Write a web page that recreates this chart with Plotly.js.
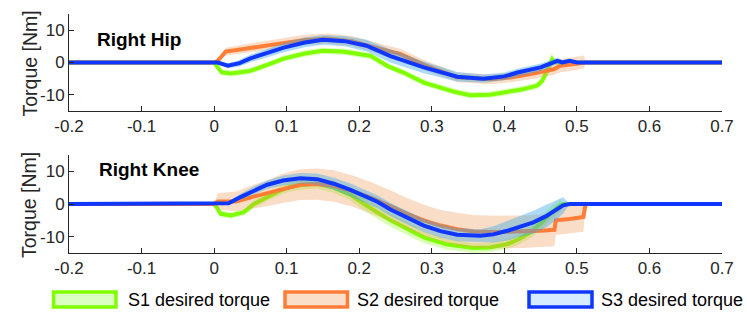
<!DOCTYPE html>
<html>
<head>
<meta charset="utf-8">
<script src="https://cdn.plot.ly/plotly-3.0.1.min.js"></script>
<style>html,body{margin:0;padding:0;background:#fff;}#chart{width:747px;height:316px;}</style>
</head>
<body>
<div id="chart"></div>
<script>
// ---------- data ----------
const seriesNames = ["S1 desired torque", "S2 desired torque", "S3 desired torque"];
const panelTitles = ["Right Hip", "Right Knee"];
const yTitle = "Torque [Nm]";
const xTickVals = [-0.2, -0.1, 0, 0.1, 0.2, 0.3, 0.4, 0.5, 0.6, 0.7];
const xTickText = ["-0.2", "-0.1", "0", "0.1", "0.2", "0.3", "0.4", "0.5", "0.6", "0.7"];
const yTickVals = [-10, 0, 10];
const yTickText = ["-10", "0", "10"];

// Right Hip
const hipT1 = [-0.2,0,0.005,0.01,0.023,0.05,0.075,0.096,0.125,0.15,0.18,0.216,0.24,0.261,0.289,0.308,0.33,0.353,0.38,0.399,0.425,0.445,0.452,0.459,0.466,0.47,0.7];
const hipM1 = [0,0,-1.5,-3.0,-3.4,-2.6,-0.6,1.2,2.8,3.6,3.3,2.0,-1.2,-3.1,-6.2,-7.4,-9.0,-10.1,-10.0,-9.3,-8.3,-7.2,-5.7,-2.6,1.0,0,0];
const hipS1 = [0,0,0.6,1,1,1,1,1,1,1,1,1,1,1,1,1,1,1,1,1,1,1,1.5,2,2,0,0];

const hipT2 = [-0.2,0,0.005,0.016,0.05,0.096,0.125,0.156,0.19,0.216,0.257,0.29,0.335,0.381,0.41,0.436,0.468,0.477,0.5,0.51,0.512,0.7];
const hipM2 = [0,0,0.5,3.4,4.5,6.2,7.0,7.4,6.6,5.0,2.6,-0.8,-4.6,-5.2,-4.6,-3.6,-2.1,-1.0,-0.3,0.2,0,0];
const hipS2 = [0,0,0.5,1.2,1.4,1.5,1.6,1.6,1.6,1.6,1.6,1.5,1.5,1.5,1.5,1.6,1.8,2,2,2,0,0];

const hipT3 = [-0.2,0,0.005,0.019,0.035,0.05,0.075,0.096,0.125,0.15,0.18,0.21,0.243,0.289,0.335,0.371,0.4,0.418,0.45,0.473,0.48,0.49,0.5,0.7];
const hipM3 = [0,0,0,-1.0,-0.2,1.3,3.0,4.6,6.2,7.0,6.6,5.2,2.0,-1.5,-4.4,-5.0,-4.3,-3.1,-1.5,0.5,0,0.5,0,0];
const hipS3 = [0,0,0.3,0.8,1,1.2,1.3,1.4,1.5,1.5,1.6,1.8,2,1.8,1.5,1.3,1.2,1.2,1.2,1,0.8,0.5,0,0];

// Right Knee
const kneeT1 = [-0.2,0,0.005,0.009,0.023,0.041,0.055,0.073,0.09,0.105,0.125,0.142,0.165,0.188,0.21,0.243,0.266,0.289,0.32,0.357,0.38,0.404,0.42,0.436,0.45,0.463,0.477,0.482,0.7];
const kneeM1 = [0,0,-1.5,-3.0,-3.5,-2.5,0,2.2,4.0,5.3,6.0,6.2,5.0,2.8,-0.5,-5.0,-7.5,-10.2,-12.3,-13.5,-13.3,-12.3,-10.8,-8.7,-6.0,-3.0,-0.4,0,0];
const kneeS1 = [0,0,0.6,1,1,1,1.2,1.3,1.4,1.5,1.5,1.5,1.6,1.8,2,2,2,1.8,1.6,1.5,1.5,1.5,1.6,1.8,2,2,2,0,0];

const kneeT2 = [-0.2,0,0.005,0.03,0.05,0.073,0.095,0.119,0.142,0.165,0.19,0.215,0.243,0.266,0.289,0.312,0.335,0.357,0.39,0.426,0.45,0.469,0.471,0.49,0.509,0.512,0.7];
const kneeM2 = [0,0,0.8,0.8,2.0,3.3,4.8,5.9,6.1,5.5,4.0,2.0,-0.6,-3.0,-5.0,-6.6,-7.7,-8.4,-8.6,-8.5,-8.2,-7.9,-5.0,-4.6,-4.0,0,0];
const kneeS2 = [0,0,2.5,3,3.5,4,4.5,4.7,4.8,4.8,4.8,4.8,4.8,4.8,4.8,4.8,5,5,5,5,5,5,4.5,4.5,4.5,0,0];

const kneeT3 = [-0.2,0,0.02,0.037,0.055,0.073,0.095,0.119,0.142,0.165,0.188,0.207,0.225,0.243,0.266,0.289,0.312,0.335,0.367,0.385,0.404,0.42,0.44,0.457,0.473,0.481,0.49,0.7];
const kneeM3 = [0,0,0.2,2.2,4.2,5.9,7.2,7.9,7.6,6.2,4.3,2.5,0.7,-1.7,-4.2,-6.6,-8.3,-9.4,-9.7,-9.3,-8.2,-7.0,-5.6,-3.8,-1.7,-0.4,0,0];
const kneeS3 = [0,0,0.5,1,1.2,1.3,1.5,1.6,1.7,1.8,2,2,2,2,2,2,2,2,2,2.5,3,3.2,3.5,3.5,3,2.5,0,0];

// ---------- styles ----------
const lineColors = ["rgb(127,255,0)", "rgb(255,125,55)", "rgb(15,55,255)"];
const bandColors = ["rgba(127,255,0,0.28)", "rgba(240,150,80,0.32)", "rgba(60,170,230,0.42)"];
const boxFills = ["rgb(218,255,195)", "rgb(250,222,200)", "rgb(212,236,255)"];
const FONT = "Liberation Sans, Arial, Helvetica, sans-serif";
const AX = "#262626";

const panels = [
  {xa: "x", ya: "y", sets: [[hipT1, hipM1, hipS1], [hipT2, hipM2, hipS2], [hipT3, hipM3, hipS3]]},
  {xa: "x2", ya: "y2", sets: [[kneeT1, kneeM1, kneeS1], [kneeT2, kneeM2, kneeS2], [kneeT3, kneeM3, kneeS3]]}
];

const traces = [];
panels.forEach(p => {
  p.sets.forEach((s, i) => {
    const [t, m, sd] = s;
    const up = m.map((v, k) => v + sd[k]);
    const lo = m.map((v, k) => v - sd[k]);
    traces.push({
      x: t.concat(t.slice().reverse()),
      y: up.concat(lo.slice().reverse()),
      xaxis: p.xa, yaxis: p.ya,
      type: "scatter", mode: "lines", fill: "toself",
      fillcolor: bandColors[i], line: {width: 0, color: bandColors[i]},
      hoverinfo: "skip", showlegend: false
    });
    traces.push({
      x: t, y: m, xaxis: p.xa, yaxis: p.ya,
      type: "scatter", mode: "lines",
      line: {color: lineColors[i], width: 4},
      name: seriesNames[i], showlegend: false
    });
  });
});

function xAxis(anchor) {
  return {
    anchor: anchor, domain: [0, 1], range: [-0.2, 0.7],
    tickvals: xTickVals, ticktext: xTickText,
    showline: true, linecolor: AX, linewidth: 1,
    ticks: "inside", ticklen: 5, tickcolor: AX, tickwidth: 1,
    showgrid: false, zeroline: false,
    tickfont: {family: FONT, size: 17, color: AX}
  };
}
function yAxis(anchor, domain) {
  return {
    anchor: anchor, domain: domain, range: [-15, 15],
    tickvals: yTickVals, ticktext: yTickText,
    showline: true, linecolor: AX, linewidth: 1,
    ticks: "inside", ticklen: 5, tickcolor: AX, tickwidth: 1,
    showgrid: false, zeroline: false,
    tickfont: {family: FONT, size: 17, color: AX}
  };
}

// legend and labels drawn manually (paper coordinates)
const L = 69, R = 722, T = 14, B = 253;
const px = v => (v - L) / (R - L);
const py = v => (B - v) / (B - T);
const legBoxes = [[53.5, 116], [285, 347.5], [529, 592]];
const legText = [126, 355, 599];
const shapes = [];
const annotations = [];
legBoxes.forEach((b, i) => {
  shapes.push({type: "rect", xref: "paper", yref: "paper",
    x0: px(b[0]), x1: px(b[1]), y0: py(307), y1: py(292),
    fillcolor: boxFills[i], line: {color: lineColors[i], width: 3.5}});
  annotations.push({xref: "paper", yref: "paper", x: px(legText[i]), y: py(299.5),
    xanchor: "left", yanchor: "middle", showarrow: false, text: seriesNames[i],
    font: {family: FONT, size: 18, color: "#000"}});
});
annotations.push({xref: "paper", yref: "paper", x: px(95), y: py(40), xanchor: "left", yanchor: "middle",
  showarrow: false, text: "<b>" + panelTitles[0] + "</b>", font: {family: FONT, size: 19, color: "#000"}});
annotations.push({xref: "paper", yref: "paper", x: px(97), y: py(170), xanchor: "left", yanchor: "middle",
  showarrow: false, text: "<b>" + panelTitles[1] + "</b>", font: {family: FONT, size: 19, color: "#000"}});
[63.5, 205].forEach(yc => {
  annotations.push({xref: "paper", yref: "paper", x: px(29), y: py(yc), xanchor: "center", yanchor: "middle",
    textangle: -90, showarrow: false, text: yTitle, font: {family: FONT, size: 19.5, color: AX}});
});

const layout = {
  width: 747, height: 316,
  margin: {l: L, r: 747 - R, t: T, b: 316 - B, pad: 0},
  paper_bgcolor: "#fff", plot_bgcolor: "#fff",
  showlegend: false,
  xaxis: xAxis("y"),
  yaxis: yAxis("x", [py(111), 1]),
  xaxis2: xAxis("y2"),
  yaxis2: yAxis("x2", [0, py(155)]),
  shapes: shapes,
  annotations: annotations
};

Plotly.newPlot("chart", traces, layout, {staticPlot: true, displayModeBar: false});
</script>
</body>
</html>
